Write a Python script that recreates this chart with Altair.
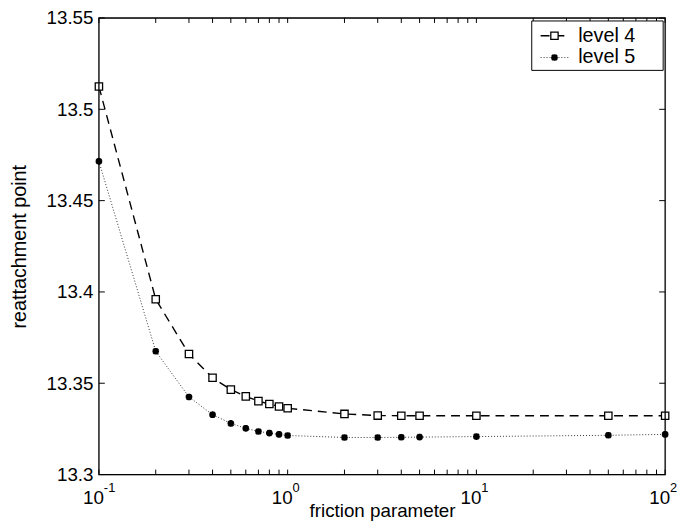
import altair as alt
import pandas as pd

# ---- data ----
friction = [0.1, 0.2, 0.3, 0.4, 0.5, 0.6, 0.7, 0.8, 0.9, 1, 2, 3, 4, 5, 10, 50, 100]
level4 = [13.5125, 13.396, 13.366, 13.353, 13.3465, 13.3428, 13.3402, 13.3386, 13.3373,
          13.3363, 13.3332, 13.3323, 13.3322, 13.3322, 13.3322, 13.3322, 13.3322]
level5 = [13.4715, 13.3675, 13.3425, 13.3328, 13.328, 13.3253, 13.3236, 13.3227, 13.322,
          13.3214, 13.3203, 13.3203, 13.3204, 13.3205, 13.3208, 13.3215, 13.322]
series_names = ["level 4", "level 5"]

y_ticks = [13.3, 13.35, 13.4, 13.45, 13.5, 13.55]
x_major = [0.1, 1, 10, 100]
x_exponents = ["-1", "0", "1", "2"]
x_minor = [0.2, 0.3, 0.4, 0.5, 0.6, 0.7, 0.8, 0.9,
           2, 3, 4, 5, 6, 7, 8, 9,
           20, 30, 40, 50, 60, 70, 80, 90]

W, H = 573, 462
FONT = "Liberation Sans"

df4 = pd.DataFrame({"x": friction, "y": level4, "s": series_names[0]})
df5 = pd.DataFrame({"x": friction, "y": level5, "s": series_names[1]})
xt = pd.DataFrame({"x": x_major + x_minor})
yt = pd.DataFrame({"y": y_ticks})
xl = pd.DataFrame({"x": x_major, "m": ["10"] * 4, "e": x_exponents})

xscale = alt.Scale(type="log", domain=[0.1, 100], nice=False)
yscale = alt.Scale(domain=[13.3, 13.55], nice=False, zero=False)

AX = alt.Axis(title="friction parameter", labels=False, ticks=False, domain=False,
              grid=False, titleFont=FONT, titleFontSize=19, titleFontWeight="normal",
              titleColor="black", titlePadding=27)
AY = alt.Axis(title="reattachment point", values=y_ticks, format="~g", ticks=False,
              domain=False, grid=False, labelFont=FONT, labelFontSize=19,
              labelColor="black", labelPadding=6, titleFont=FONT, titleFontSize=20,
              titleFontWeight="normal", titleColor="black", titlePadding=17)
X = alt.X("x:Q", scale=xscale, axis=AX)
Y = alt.Y("y:Q", scale=yscale, axis=AY)

line4 = alt.Chart(df4).mark_line(color="black", strokeWidth=1.4, strokeDash=[9, 6]).encode(x=X, y=Y)
line5 = alt.Chart(df5).mark_line(color="#333333", strokeWidth=1.0, strokeDash=[1, 2]).encode(x=X, y=Y)
pts4 = alt.Chart(df4).mark_point(shape="square", size=55, filled=False, fill="white", fillOpacity=1,
                                 color="black", strokeWidth=1.3, opacity=1).encode(x=X, y=Y)
ASTER = "M-1,0L1,0M0,-1L0,1M-0.75,-0.75L0.75,0.75M-0.75,0.75L0.75,-0.75"
pts5 = alt.Chart(df5).mark_point(shape=ASTER, size=45, filled=False, color="black",
                                 strokeWidth=2.2, opacity=1).encode(x=X, y=Y)

# frame
frame = alt.Chart().mark_rect(fill=None, stroke="black", strokeWidth=1.3).encode(
    x=alt.value(0), x2=alt.value(W), y=alt.value(0), y2=alt.value(H))

# inward ticks
xb = alt.Chart(xt).mark_rule(color="black", strokeWidth=1).encode(x=X, y=alt.value(H), y2=alt.value(H - 5))
xtop = alt.Chart(xt).mark_rule(color="black", strokeWidth=1).encode(x=X, y=alt.value(0), y2=alt.value(5))
yl = alt.Chart(yt).mark_rule(color="black", strokeWidth=1).encode(y=Y, x=alt.value(0), x2=alt.value(6))
yr = alt.Chart(yt).mark_rule(color="black", strokeWidth=1).encode(y=Y, x=alt.value(W), x2=alt.value(W - 6))

# x tick labels 10^n
mant = alt.Chart(xl).mark_text(font=FONT, fontSize=19, align="right", baseline="middle", dx=5,
                               color="black").encode(x=X, y=alt.value(H + 24), text="m:N")
expo = alt.Chart(xl).mark_text(font=FONT, fontSize=13, align="left", baseline="middle", dx=5,
                               color="black").encode(x=X, y=alt.value(H + 14), text="e:N")

# legend
lg_box = alt.Chart().mark_rect(fill="white", stroke="black", strokeWidth=1).encode(
    x=alt.value(438), x2=alt.value(571), y=alt.value(3), y2=alt.value(53))
lg_l4 = alt.Chart().mark_rule(color="black", strokeWidth=1.4, strokeDash=[9, 6]).encode(
    x=alt.value(447), x2=alt.value(475), y=alt.value(18))
lg_l5 = alt.Chart().mark_rule(color="#333333", strokeWidth=1.0, strokeDash=[1, 2]).encode(
    x=alt.value(447), x2=alt.value(475), y=alt.value(40))
lg_p4 = alt.Chart().mark_point(shape="square", size=55, filled=False, fill="white", fillOpacity=1,
                               color="black", strokeWidth=1.3, opacity=1).encode(
    x=alt.value(461), y=alt.value(18))
lg_p5 = alt.Chart().mark_point(shape=ASTER, size=45, filled=False, color="black", strokeWidth=2.2,
                               opacity=1).encode(x=alt.value(461), y=alt.value(40))
lg_t4 = alt.Chart().mark_text(font=FONT, fontSize=20, align="left", baseline="middle", color="black",
                              text=series_names[0]).encode(x=alt.value(485), y=alt.value(18))
lg_t5 = alt.Chart().mark_text(font=FONT, fontSize=20, align="left", baseline="middle", color="black",
                              text=series_names[1]).encode(x=alt.value(485), y=alt.value(40))

chart = alt.layer(
    line4, line5, pts4, pts5, frame, xb, xtop, yl, yr, mant, expo,
    lg_box, lg_l4, lg_l5, lg_p4, lg_p5, lg_t4, lg_t5
).properties(
    width=W, height=H,
    autosize=alt.AutoSizeParams(type="none"),
    padding={"left": 92, "top": 7, "right": 12, "bottom": 55},
).configure_view(
    stroke="black", strokeWidth=1.2
).configure(background="white")

chart.save("out.html", embed_options={"renderer": "svg", "actions": False})
